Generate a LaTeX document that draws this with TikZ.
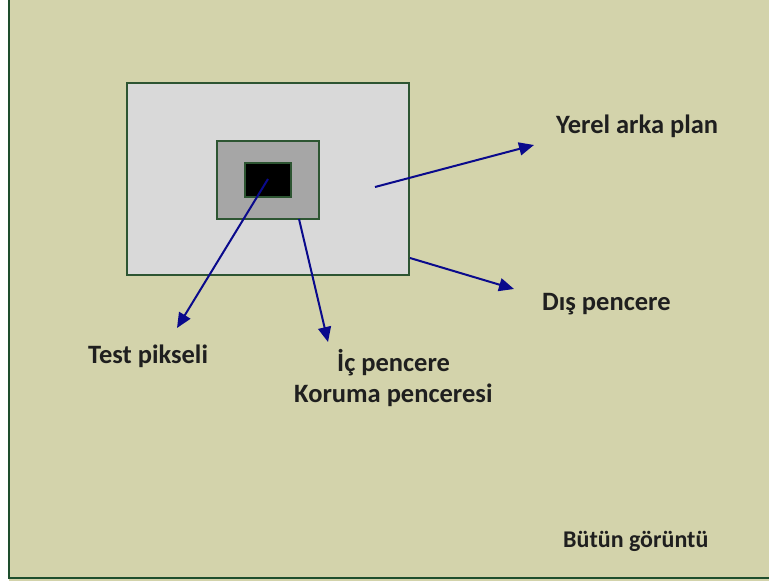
\documentclass[tikz,border=0pt]{standalone}
\usepackage{fontspec}
\setmainfont{Carlito}
\usetikzlibrary{arrows.meta}
\definecolor{pagebg}{RGB}{211,211,171}
\definecolor{framegreen}{RGB}{30,78,45}
\definecolor{boxedge}{RGB}{45,85,50}
\definecolor{outerfill}{RGB}{217,217,217}
\definecolor{midfill}{RGB}{166,166,166}
\definecolor{arrowblue}{RGB}{10,10,140}
\tikzset{
  winbox/.style={draw=boxedge, line width=1.8pt, inner sep=0pt, outer sep=0pt},
  pointer/.style={draw=arrowblue, line width=2pt,
    -{Triangle[length=15pt,width=13pt]}},
  caption/.style={font=\bfseries\fontsize{26.5}{31}\selectfont, text=black!88,
    inner sep=0pt, anchor=base west},
}
\begin{document}
\begin{tikzpicture}[x=1pt,y=-1pt]
  \useasboundingbox (0,0) rectangle (769,581);
  % page and its frame
  \fill[white] (0,0) rectangle (769,581);
  \fill[pagebg] (9,0) rectangle (769,581);
  \draw[framegreen, line width=2pt] (9,0) -- (9,578) -- (769,578);

  % nested windows
  \node[winbox, fill=outerfill, minimum width=282pt, minimum height=192pt]
    (outer) at (268,179) {};
  \node[winbox, fill=midfill, minimum width=102pt, minimum height=78pt]
    (inner) at (268,180) {};
  \node[winbox, fill=black, minimum width=46pt, minimum height=34pt]
    (pixel) at (268,180) {};

  % captions
  \node[caption] (tyerel) at (556,133) {Yerel arka plan};
  \node[caption] (tdis)   at (542,310) {Dış pencere};
  \node[caption] (ttest)  at (88,363)  {Test pikseli};
  \node[caption] (tic)    at (337,371) {İç pencere};
  \node[caption] (tkoru)  at (294,402) {Koruma penceresi};
  \node[caption, font=\bfseries\fontsize{24}{29}\selectfont]
    (tall) at (563,547) {Bütün görüntü};

  % arrow ends
  \coordinate (sPix)   at (268,179);
  \coordinate (ePix)   at (177,328);
  \coordinate (sIn)    at (299,219);
  \coordinate (eIn)    at (328,342);
  \coordinate (sOut)   at (375,187);
  \coordinate (eOut)   at (534,145);
  \coordinate (sEdge)  at (410,258);
  \coordinate (eEdge)  at (514,289);

  \draw[pointer] (sPix) -- (ePix);
  \draw[pointer] (sIn) -- (eIn);
  \draw[pointer] (sOut) -- (eOut);
  \draw[pointer] (sEdge) -- (eEdge);
\end{tikzpicture}
\end{document}
